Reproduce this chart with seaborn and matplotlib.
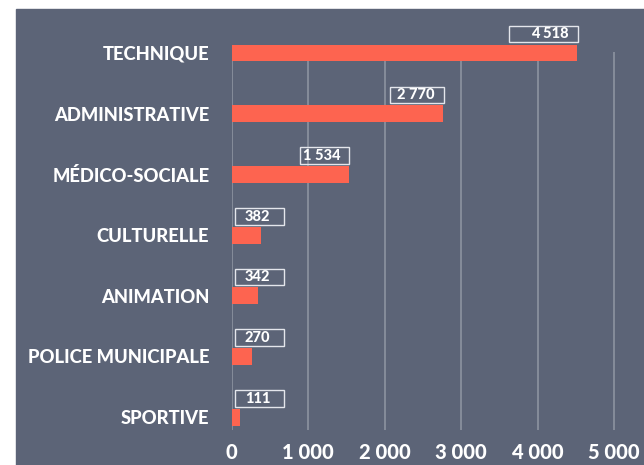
import matplotlib
matplotlib.use('Agg')
import matplotlib.pyplot as plt
from matplotlib.patches import Rectangle
import seaborn as sns

categories=['TECHNIQUE','ADMINISTRATIVE','MÉDICO-SOCIALE','CULTURELLE','ANIMATION','POLICE MUNICIPALE','SPORTIVE']
values=[4518,2770,1534,382,342,270,111]
value_labels=['4 518','2 770','1 534','382','342','270','111']
xticks=[0,1000,2000,3000,4000,5000]
xtick_labels=['0','1 000','2 000','3 000','4 000','5 000']

bg='#5c6477'
bar_color='#fd6450'
grid_color='#8d93a1'
box_color='#e4e6ec'

sns.set_theme(style='white')
plt.rcParams['font.family']=['Lato','DejaVu Sans']
weight='black'

W,H=644,465
fig=plt.figure(figsize=(W/100,H/100),dpi=100,facecolor='white')
fig.patches.append(Rectangle((16/W,0),1,1-9/H,transform=fig.transFigure,color=bg,zorder=-1))

# axes placed in pixels: x=0 at 231.5, top 52, bottom 430
ax_left=231.5
ax_top=52
ax_bottom=430
ax=fig.add_axes([ax_left/W,1-ax_bottom/H,1-ax_left/W,(ax_bottom-ax_top)/H])
ax.set_facecolor('none')

px_per_unit=0.0765
xmax=(W-ax_left)/px_per_unit
row_px=60.67
y_top=(ax_top-53)/row_px
y_bot=(ax_bottom-53)/row_px

sns.barplot(x=values,y=categories,orient='h',color=bar_color,saturation=1,width=0.28,ax=ax,zorder=3)
for p in ax.patches:
    p.set_clip_on(False)
    p.set_linewidth(0)

ax.set_xlim(0,xmax)
ax.set_ylim(y_bot,y_top)
ax.set_xticks(xticks)
ax.set_xticklabels(xtick_labels)
ax.xaxis.grid(True,color=grid_color,linewidth=1.2,zorder=0)
ax.set_axisbelow(True)
for s in ax.spines.values():
    s.set_visible(False)
ax.tick_params(axis='x',length=0,pad=9,labelsize=14.5,labelcolor='white')
ax.tick_params(axis='y',length=0,pad=16,labelsize=13.2,labelcolor='white')
for t in ax.get_xticklabels()+ax.get_yticklabels():
    t.set_fontweight(weight)
ax.set_xlabel('')
ax.set_ylabel('')

# value boxes above bars
xu=1/px_per_unit
yu=1/row_px
for i,(v,lab) in enumerate(zip(values,value_labels)):
    bar_end=v*px_per_unit
    right=max(bar_end+0.5,52.5)
    w=max(49,32+0.008*v)
    left=right-w
    ax.add_patch(Rectangle((left*xu,i-27*yu),w*xu,16.5*yu,fill=False,edgecolor=box_color,
                           linewidth=1,clip_on=False,zorder=4))
    if bar_end>52.5:
        ax.text((right-9)*xu,i-18.5*yu,lab,ha='right',va='center',color='white',
                fontsize=10.5,fontweight=weight,clip_on=False,zorder=5)
    else:
        ax.text((left+w/2-2)*xu,i-18.5*yu,lab,ha='center',va='center',color='white',
                fontsize=10.5,fontweight=weight,clip_on=False,zorder=5)

fig.savefig('out.png',dpi=100,facecolor='white')
